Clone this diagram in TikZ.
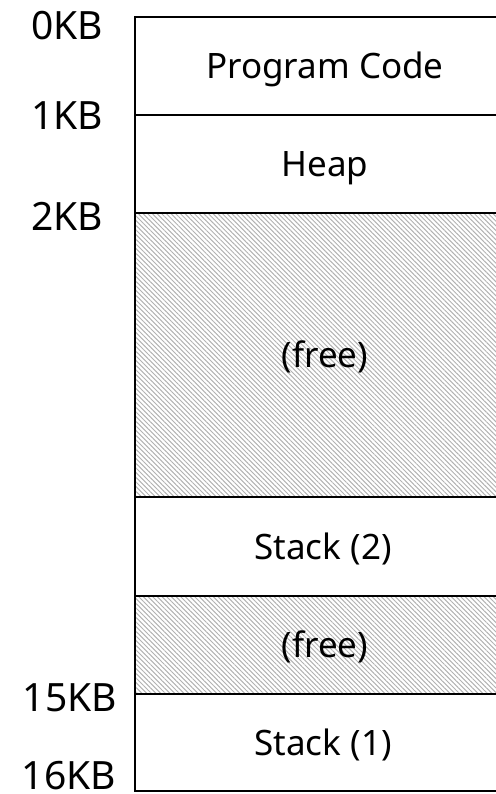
\documentclass[tikz,border=0pt]{standalone}
\usepackage{fontspec}
\setmainfont{Noto Sans}
\usetikzlibrary{patterns.meta}
\begin{document}
\begin{tikzpicture}[x=1pt,y=-1pt,
  region/.style={draw=black,line width=2.5pt,rectangle,anchor=north west,
    minimum width=362pt,inner sep=0pt,outer sep=0pt},
  freeregion/.style={region,pattern={Lines[angle=-45,distance=3.3pt,line width=1pt]},pattern color=black!30},
  body/.style={font=\fontsize{35}{40}\selectfont,anchor=base,inner sep=0pt},
  addr/.style={font=\fontsize{39}{44}\selectfont,anchor=base,inner sep=0pt}]
\useasboundingbox (0,0) rectangle (495,794);
\node[region,minimum height=98pt] (code) at (135,17) {};
\node[region,minimum height=98pt] (heap) at (135,115) {};
\node[freeregion,minimum height=284pt] (free1) at (135,213) {};
\node[region,minimum height=99pt] (stack2) at (135,497) {};
\node[freeregion,minimum height=98pt] (free2) at (135,596) {};
\node[region,minimum height=97pt] (stack1) at (135,694) {};
\node[body] (tcode) at (325,78.5) {Program Code};
\node[body] (theap) at (325,176.5) {Heap};
\node[body] (tfree1) at (325,367.5) {(free)};
\node[body] (tstack2) at (323,559.5) {Stack (2)};
\node[body] (tfree2) at (325,657.5) {(free)};
\node[body] (tstack1) at (323,755.5) {Stack (1)};
\node[addr] (a0) at (67,40) {0KB};
\node[addr] (a1) at (67,130) {1KB};
\node[addr] (a2) at (67,230) {2KB};
\node[addr] (a15) at (70,711) {15KB};
\node[addr] (a16) at (69,789) {16KB};
\end{tikzpicture}
\end{document}
